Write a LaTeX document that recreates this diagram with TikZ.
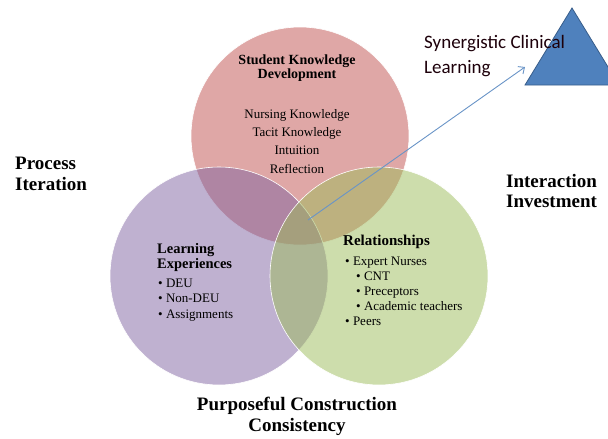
\documentclass[tikz,border=0pt]{standalone}
\usepackage{fontspec}
\setmainfont{Liberation Serif}
\newfontfamily\calibri{Carlito}
\usetikzlibrary{arrows.meta}
\definecolor{kred}{RGB}{192,80,77}
\definecolor{kpurple}{RGB}{128,100,162}
\definecolor{kgreen}{RGB}{155,187,89}
\definecolor{kblue}{RGB}{79,129,189}
\definecolor{kbluedark}{RGB}{56,93,138}
\tikzset{
  venn/.style={circle, draw=white, line width=0.6pt, fill opacity=0.5,
    minimum size=218pt, inner sep=0pt},
  big/.style={inner sep=0pt, align=left, font=\bfseries\fontsize{19}{20.5}\selectfont},
  head/.style={inner sep=0pt, align=left, font=\bfseries\fontsize{14.5}{15}\selectfont},
  item/.style={inner sep=0pt, anchor=base west, font=\fontsize{13}{15}\selectfont},
  sub/.style={inner sep=0pt, anchor=base, font=\fontsize{13}{15}\selectfont}
}
\begin{document}
\begin{tikzpicture}[x=1pt,y=-1pt]
    \useasboundingbox (0,0) rectangle (608,439);
    \clip (0,0) rectangle (608,439);
    % circles
    \node[venn, fill=kred] (skd) at (300,136) {};
    \node[venn, fill=kpurple] (lexp) at (219,276) {};
    \node[venn, fill=kgreen] (rel) at (379,276) {};
    % triangle
    \coordinate (apex) at (572,8);
    \coordinate (baseL) at (525,85);
    \coordinate (baseR) at (619,85);
    \draw[kbluedark, line width=0.8pt, fill=kblue] (apex) -- (baseL) -- (baseR) -- cycle;
    \node[inner sep=0pt, anchor=north west, align=left, text=black!85!purple,
      font=\calibri\fontsize{19}{25}\selectfont] (scl) at (424,35)
      {Synergistic Clinical\\Learning};
    % arrow
    \coordinate (tail) at (308,220);
    \coordinate (tip) at (525,67);
    \draw[kblue!85!white, line width=0.9pt, -{Straight Barb[length=5pt,width=9pt]}] (tail) -- (tip);
    % outer labels
    \node[big, anchor=north west] (proc) at (15,157) {Process\\Iteration};
    \node[big, anchor=north west] (inter) at (506,174) {Interaction\\Investment};
    \node[big, anchor=north, align=center] (purp) at (297,397) {Purposeful Construction\\Consistency};
    % student knowledge
    \node[head, anchor=north, align=center, font=\bfseries\fontsize{14}{13.5}\selectfont] (skdT) at (297,55)
      {Student Knowledge\\Development};
    \foreach \txt [count=\i] in {Nursing Knowledge, Tacit Knowledge, Intuition, Reflection}
      \node[sub] (skd\i) at (297,100+18.3*\i) {\txt};
    % learning experiences
    \node[head, anchor=north west] (lexpT) at (157,243) {Learning\\Experiences};
    \foreach \txt [count=\i] in {DEU, Non-DEU, Assignments}
      \node[item] (lexp\i) at (158,271.5+15.5*\i) {\textbullet\ \txt};
    % relationships
    \node[head, anchor=base west, font=\bfseries\fontsize{15}{15}\selectfont] (relT) at (343,245) {Relationships};
    \foreach \d/\txt [count=\i] in {0/Expert Nurses, 1/CNT, 1/Preceptors, 1/Academic teachers, 0/Peers}
      \node[item] (rel\i) at (345+11*\d,250+15*\i) {\textbullet\ \txt};
\end{tikzpicture}
\end{document}
